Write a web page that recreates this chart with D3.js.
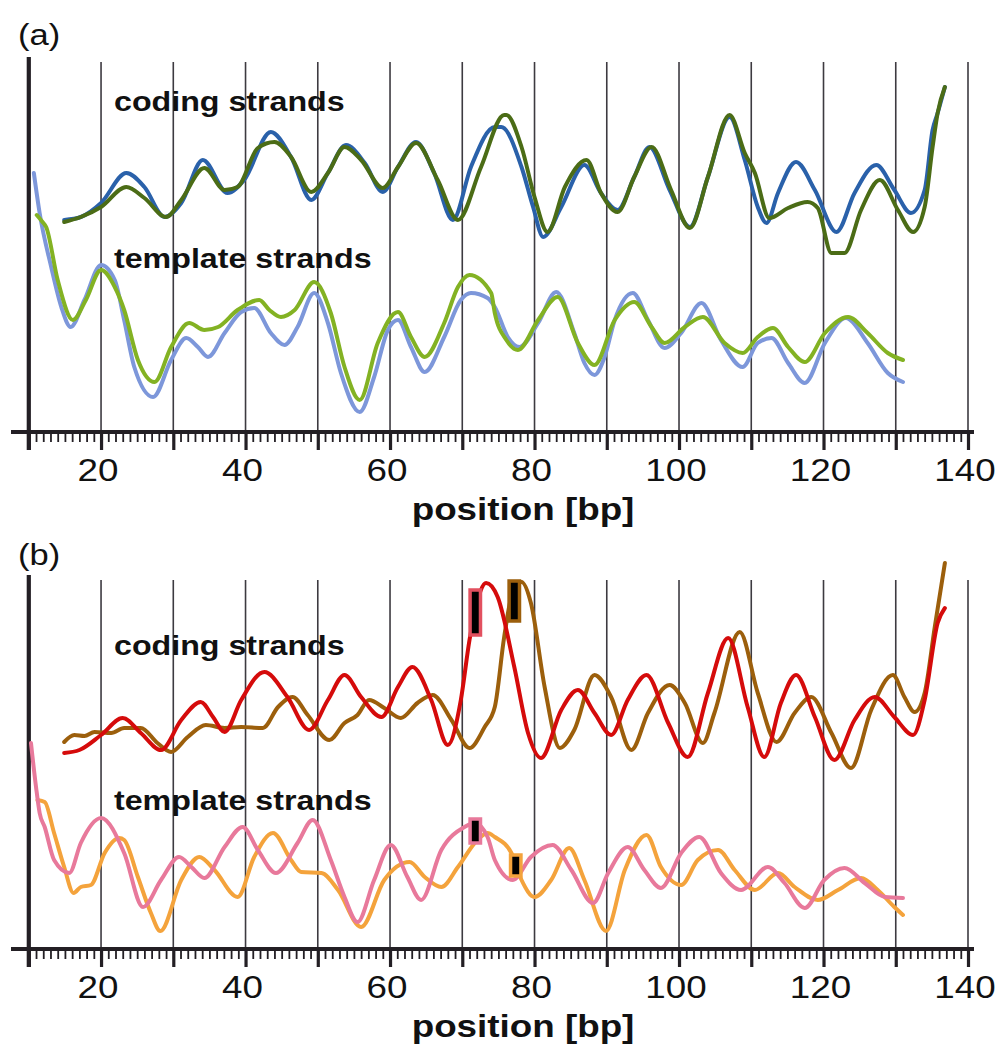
<!DOCTYPE html>
<html>
<head>
<meta charset="utf-8">
<script src="https://cdn.jsdelivr.net/npm/d3@7"></script>
<style>
  html, body { margin: 0; padding: 0; background: #ffffff; }
  svg { display: block; }
</style>
</head>
<body>
<svg id="chart" width="1007" height="1050"></svg>
<script>
// ---------------- DATA (position in bp, signal in arbitrary units) ----------------
const panelLabels = ["(a)", "(b)"];
const strandLabels = ["coding strands", "template strands"];
const xTitle = "position [bp]";
const tickLabels = [20, 40, 60, 80, 100, 120, 140];
const gridPositions = [20, 30, 40, 50, 60, 70, 80, 90, 100, 110, 120, 130, 140];

// Panel (a) coding strand, blue
const codingBlueA = [
  [14.9,212],[17.2,215],[20,229],[23.5,259],[26,245],[28.8,215],[31.1,229],[34.1,272],
  [37.5,239],[39.8,252],[43.5,300],[46.3,275],[49.1,232],[51.4,259],[53.9,287],[56.5,269],
  [59,240],[61.1,265],[63.6,290],[66.1,259],[68.7,212],[71.2,265],[74.5,305],[75.4,305],
  [78.2,265],[79.8,225],[81.2,195],[83.7,225],[86.9,267],[89.2,239],[91.5,222],[93.8,255],
  [95.9,285],[98.7,242],[101.5,205],[104,255],[107,315],[109.1,272],[110.9,225],[112.1,209],
  [113.7,239],[116.2,270],[118.8,242],[121.8,200],[124.3,239],[127.3,267],[129.8,242],
  [132.1,219],[134,242],[135.1,302],[135.8,319],[136.8,345]
];
// Panel (a) coding strand, green
const codingGreenA = [
  [14.9,210],[17.2,215],[20,225],[23.5,245],[26,234],[29,215],[31.1,232],[34.3,264],
  [37.1,242],[38.9,245],[41.7,284],[44,290],[46.3,275],[49.1,240],[51.4,259],[53.7,285],
  [56,272],[59,244],[61.1,265],[63.6,289],[66.6,252],[69.4,212],[72.6,265],[75.8,317],
  [76.1,317],[78.2,285],[80,235],[81.8,200],[84.2,245],[87.2,272],[89.2,239],[91.5,220],
  [93.8,255],[96.2,285],[98.9,242],[101.5,204],[104,255],[107,317],[109.1,279],[110.5,259],
  [112.5,214],[115.1,224],[117.8,230],[119.2,224],[121.1,179],[122.9,179],[125.2,222],
  [127.8,252],[130.3,222],[132.4,200],[134,225],[135.1,285],[135.8,319],[136.8,345]
];
// Panel (a) template strand, blue
const templateBlueA = [
  [10.7,259],[11.5,219],[13.1,165],[14.5,125],[15.8,105],[17.7,132],[20,167],[21.9,152],
  [23.2,112],[24.6,65],[27.2,35],[29.7,72],[31.8,94],[33.4,85],[34.8,75],[37.1,99],
  [39.4,120],[41.2,124],[43.5,99],[45.4,87],[47.2,105],[49.5,139],[51.4,109],[53.2,59],
  [55.8,20],[57.8,55],[59.7,102],[61.1,112],[62.9,85],[64.8,60],[67.5,95],[69.8,132],
  [71.2,139],[73.5,134],[74.5,125],[76.3,95],[77.9,85],[80.5,109],[83,140],[85.5,99],
  [86.9,69],[88.3,57],[89.7,75],[91.1,112],[93.6,139],[95.7,112],[98,84],[100.3,99],
  [103.1,129],[105.8,92],[108.8,65],[110.9,89],[112.8,94],[115.1,69],[117.4,49],[120.2,89],
  [123.1,114],[126.1,89],[128.9,59],[131,50]
];
// Panel (a) template strand, green
const templateGreenA = [
  [11.1,217],[11.9,210],[12.4,205],[14,152],[16.1,112],[17.9,132],[20,162],[21.9,145],
  [23.2,122],[25.1,72],[27.4,50],[29.7,85],[32.2,109],[34.3,102],[36.2,105],[38.9,122],
  [41.9,132],[43.3,122],[44.9,115],[46.8,122],[49.5,150],[51.8,119],[53.7,65],[55.8,32],
  [58.3,89],[61.1,120],[62.9,95],[64.8,75],[67.5,109],[69.4,145],[71,157],[74,139],
  [74.5,119],[76.1,92],[77.7,82],[80.5,112],[83.2,135],[86,89],[88.3,67],[91.1,112],
  [93.8,130],[96.2,105],[98,89],[100.8,105],[103.3,115],[106.3,89],[108.8,79],[110.9,95],
  [113,104],[115.1,85],[117.4,70],[120.2,99],[123.4,115],[126.1,99],[128.9,79],[131,72]
];
// Panel (b) coding strand, brown
const codingBrownB = [
  [14.9,207],[16.3,214],[17.7,213],[19.1,217],[21.4,216],[23.2,221],[25.5,221],[27.8,206],
  [29.7,197],[32,212],[34.5,224],[37.1,221],[39.4,222],[42.4,221],[44.5,242],[46.5,252],
  [48.6,234],[51.6,209],[53.7,226],[55.5,234],[57.1,249],[59.2,241],[61.5,231],[63.8,246],
  [65.9,254],[68.5,229],[71,201],[73.1,222],[74.5,242],[75.8,312],[76.8,352],[78.2,367],
  [79.5,346],[81.4,262],[83.5,201],[85.5,219],[88.3,274],[90.6,252],[93.4,199],[95.7,236],
  [98.7,264],[100.8,246],[103.3,206],[104.9,236],[108.4,317],[110.9,256],[113.5,207],
  [116,236],[118.3,252],[121.1,216],[123.8,181],[126.6,239],[129.6,274],[131.2,252],
  [132.6,237],[134,256],[135.4,322],[136.8,386]
];
// Panel (b) coding strand, red
const codingRedB = [
  [14.9,196],[17,199],[20,214],[23,231],[25.5,216],[28.3,199],[31.1,229],[33.8,247],
  [35.5,232],[37.1,217],[39.4,249],[42.6,277],[45.8,252],[48.8,219],[51.4,249],[53.7,274],
  [56,252],[58.8,232],[61.1,262],[63.1,282],[65.7,249],[68,204],[69.8,249],[71,309],
  [71.9,342],[73.3,366],[74.9,352],[77.2,282],[79.1,216],[80.9,191],[83.7,239],[86,259],
  [88.3,236],[90.6,214],[92.9,249],[95.5,274],[98.5,226],[101.2,192],[104,256],[106.8,311],
  [109.5,242],[111.8,192],[114.1,246],[116.2,274],[118.8,232],[121.5,189],[124.3,229],
  [127.1,252],[129.8,232],[132.4,214],[134,249],[135.8,326],[136.8,341]
];
// Panel (b) template strand, orange
const templateOrangeB = [
  [11.2,149],[12.2,147],[13.5,116],[14.9,82],[16.2,56],[17.2,62],[18.6,64],[20.5,96],
  [22.5,111],[23.2,109],[25.1,72],[26.9,36],[28.2,18],[31.1,69],[33.6,92],[35.7,79],
  [38.9,52],[41.2,92],[43.8,116],[46.3,89],[47.7,77],[50.5,76],[52.8,59],[56,22],
  [59.2,69],[62.7,87],[64.8,72],[67.1,62],[69.4,82],[72.1,109],[73.5,116],[74.5,112],
  [76.8,96],[78.2,69],[80,52],[82.3,69],[84.8,101],[86.9,69],[89.9,18],[92.5,79],
  [95.5,114],[97.5,82],[100.3,64],[102.6,89],[105.4,99],[107.7,79],[110.5,59],[113.7,76],
  [116,62],[119.2,49],[122,59],[125.2,71],[127.5,59],[129.8,42],[131,34]
];
// Panel (b) template strand, pink
const templatePinkB = [
  [10.3,206],[11,162],[11.5,136],[12.2,122],[13.5,89],[15.6,76],[17.2,106],[20,131],
  [23.2,96],[25.8,42],[28.3,69],[30.8,92],[32.5,82],[34.3,71],[37.1,102],[39.6,122],
  [41.7,99],[44.2,76],[47.2,106],[49.3,129],[51.8,89],[53.7,52],[55.5,27],[57.8,69],
  [60.1,104],[62.4,72],[64.3,49],[67.1,99],[70.3,122],[71.7,126],[73.5,112],[74.5,89],
  [77,69],[79.5,92],[82.5,104],[85.1,79],[88.1,46],[90.2,76],[92.9,102],[95.2,79],
  [97.5,61],[100.3,96],[102.8,112],[105.8,76],[108.6,59],[112.3,82],[114.6,66],[117.4,41],
  [120.1,69],[122.9,81],[125.7,66],[128.5,52],[131,51]
];
// Marked positions in panel (b): [position bp, low signal, high signal]
const markerRed    = [71.8, 314, 359];
const markerBrown  = [77.2, 328, 368];
const markerPink   = [71.8, 106, 130];
const markerOrange = [77.4, 73, 94];

// ---------------- DRAWING ----------------
const svg = d3.select("#chart");
const FONT = "'Liberation Sans', Arial, Helvetica, sans-serif";
const STRETCH = 1.15;

const x = d3.scaleLinear().domain([10, 140]).range([28.8, 968]);

const panels = [
  { label: panelLabels[0], axisY: 432, top: 62, yAxisTop: 57, labelBase: 45,
    textCoding: 111, textTemplate: 268,
    series: [
      { data: codingBlueA,    color: "#2a61aa" },
      { data: codingGreenA,   color: "#4b6c16" },
      { data: templateBlueA,  color: "#7d97da" },
      { data: templateGreenA, color: "#83b223" }
    ],
    markers: [] },
  { label: panelLabels[1], axisY: 949, top: 580, yAxisTop: 575, labelBase: 565,
    textCoding: 655, textTemplate: 810,
    series: [
      { data: codingBrownB,    color: "#9c5f0c" },
      { data: codingRedB,      color: "#d50b0b" },
      { data: templateOrangeB, color: "#f4a33c" },
      { data: templatePinkB,   color: "#e8799b" }
    ],
    markers: [
      { m: markerRed,    color: "#e2505f" },
      { m: markerBrown,  color: "#9c5f0c" },
      { m: markerPink,   color: "#e8799b" },
      { m: markerOrange, color: "#f4a33c" }
    ] }
];

function stretchedText(g, tx, ty, str, size, weight, anchor) {
  g.append("text")
    .attr("transform", `translate(${tx},${ty}) scale(${STRETCH},1)`)
    .attr("font-family", FONT)
    .attr("font-size", size)
    .attr("font-weight", weight)
    .attr("text-anchor", anchor)
    .attr("fill", "#111")
    .text(str);
}

panels.forEach(p => {
  const g = svg.append("g");
  const y = d3.scaleLinear().domain([0, 370]).range([p.axisY, p.axisY - 370]);

  // grid lines
  g.append("g").selectAll("line").data(gridPositions).join("line")
    .attr("x1", d => x(d)).attr("x2", d => x(d))
    .attr("y1", p.top).attr("y2", p.axisY)
    .attr("stroke", "#3d3a40").attr("stroke-width", 1.6);

  // minor ticks
  const minor = d3.axisBottom(x).tickValues(d3.range(10, 141, 1)).tickSize(10).tickFormat("");
  const gMinor = g.append("g").attr("transform", `translate(0,${p.axisY})`).call(minor);
  gMinor.select(".domain").remove();
  gMinor.selectAll(".tick line").attr("stroke", "#231f24").attr("stroke-width", 1.8);

  // major ticks
  const major = d3.axisBottom(x).tickValues(d3.range(10, 141, 10)).tickSize(18).tickFormat("");
  const gMajor = g.append("g").attr("transform", `translate(0,${p.axisY})`).call(major);
  gMajor.select(".domain").remove();
  gMajor.selectAll(".tick line").attr("stroke", "#231f24").attr("stroke-width", 3.2);

  // x axis line
  g.append("line").attr("x1", 11).attr("x2", 974)
    .attr("y1", p.axisY).attr("y2", p.axisY)
    .attr("stroke", "#231f24").attr("stroke-width", 4.2);

  // y axis line
  g.append("line").attr("x1", x(10)).attr("x2", x(10))
    .attr("y1", p.yAxisTop).attr("y2", p.axisY + 18)
    .attr("stroke", "#231f24").attr("stroke-width", 4.2);

  // tick labels
  tickLabels.forEach(t => stretchedText(g, x(t) - 3, p.axisY + 49, String(t), 32, "normal", "middle"));

  // axis title
  stretchedText(g, 523, p.axisY + 88, xTitle, 32, "bold", "middle");

  // panel label
  stretchedText(g, 18, p.labelBase, p.label, 30, "normal", "start");

  // strand labels
  stretchedText(g, 114, p.textCoding, strandLabels[0], 28, "bold", "start");
  stretchedText(g, 114, p.textTemplate, strandLabels[1], 28, "bold", "start");

  // curves
  const line = d3.line().x(d => x(d[0])).y(d => y(d[1])).curve(d3.curveMonotoneX);
  p.series.forEach(s => {
    g.append("path").attr("d", line(s.data))
      .attr("fill", "none").attr("stroke", s.color)
      .attr("stroke-width", 4).attr("stroke-linejoin", "round").attr("stroke-linecap", "round");
  });

  // markers
  p.markers.forEach(mk => {
    const [pos, lo, hi] = mk.m;
    g.append("rect")
      .attr("x", x(pos) - 5.2).attr("width", 10.4)
      .attr("y", y(hi)).attr("height", y(lo) - y(hi))
      .attr("fill", "#000").attr("stroke", mk.color).attr("stroke-width", 3.5);
  });
});
</script>
</body>
</html>
